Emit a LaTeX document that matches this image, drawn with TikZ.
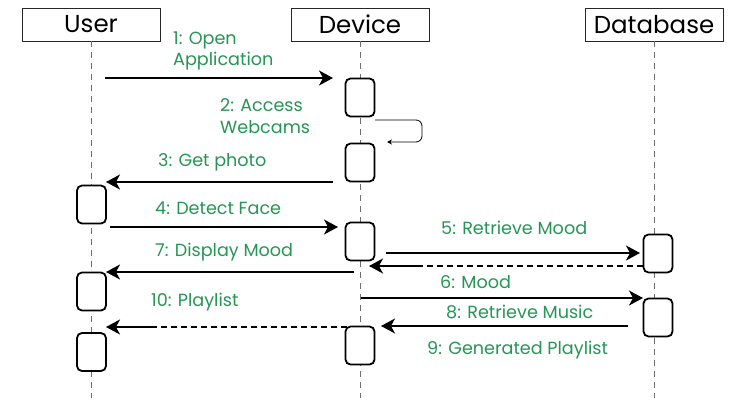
\documentclass[tikz,border=0pt]{standalone}
\usepackage{fontspec}
\setmainfont{Poppins}
\usetikzlibrary{arrows.meta}
\definecolor{lbl}{RGB}{38,150,84}
\definecolor{life}{RGB}{110,110,110}
\tikzset{
  header/.style={draw=black!85, line width=0.9pt, minimum width=138pt, minimum height=33pt, inner sep=0pt, font=\fontsize{24.5}{28}\selectfont},
  actbox/.style={draw=black, line width=1.8pt, rounded corners=5pt, minimum width=29pt, minimum height=38pt, fill=white, inner sep=0pt},
  lifeline/.style={draw=life, line width=0.7pt, dash pattern=on 6pt off 5pt},
  msg/.style={line width=1.8pt, -{Stealth[length=14pt,width=15pt,inset=4pt]}},
  dashmsg/.style={line width=1.8pt, dash pattern=on 6pt off 4pt},
  lab/.style={text=lbl, anchor=base west, inner sep=0pt, font=\fontsize{17.6}{21}\selectfont},
}
\begin{document}
\begin{tikzpicture}[x=1pt,y=-1pt]
\useasboundingbox[fill=white] (0,0) rectangle (741,404);
% headers
\node[header] (user) at (91,24.5) {User};
\node[header] (dev) at (360,24.5) {Device};
\node[header] (db) at (654,24.5) {Database};
% lifelines
\coordinate (uend) at (91,398);
\coordinate (dend) at (360,398);
\coordinate (bend) at (654,398);
\draw[lifeline] (user.south) -- (uend);
\draw[lifeline] (dev.south) -- (dend);
\draw[lifeline] (db.south) -- (bend);
% activation boxes
\node[actbox] (d1) at (360,97.5) {};
\node[actbox] (d2) at (360,162.5) {};
\node[actbox] (d3) at (360,241.5) {};
\node[actbox] (d4) at (360,345.5) {};
\node[actbox] (u1) at (91.5,204.5) {};
\node[actbox] (u2) at (91.5,291.5) {};
\node[actbox] (u3) at (91.5,352) {};
\node[actbox] (b1) at (658,253.5) {};
\node[actbox] (b2) at (658,317.5) {};
% 1
\coordinate (m1s) at (105,78); \coordinate (m1e) at (333,78);
\draw[msg] (m1s) -- (m1e);
\node[lab] (l1a) at (173,45) {1: Open};
\node[lab] (l1b) at (173,66) {Application};
% 2 self loop
\coordinate (s2a) at (375,120); \coordinate (s2b) at (422,120);
\coordinate (s2c) at (422,142); \coordinate (s2d) at (387,142);
\draw[line width=0.8pt, rounded corners=6pt, -{Stealth[length=5pt,width=5pt]}] (s2a) -- (s2b) -- (s2c) -- (s2d);
\node[lab] (l2a) at (220,111) {2: Access};
\node[lab] (l2b) at (220,133) {Webcams};
% 3
\coordinate (m3s) at (333,182); \coordinate (m3e) at (106,182);
\draw[msg] (m3s) -- (m3e);
\node[lab] (l3) at (158,166) {3: Get photo};
% 4
\coordinate (m4s) at (110,227); \coordinate (m4e) at (338,227);
\draw[msg] (m4s) -- (m4e);
\node[lab] (l4) at (155,214) {4: Detect Face};
% 5
\coordinate (m5s) at (386,253); \coordinate (m5e) at (640,253);
\draw[msg] (m5s) -- (m5e);
\node[lab] (l5) at (441,234) {5: Retrieve Mood};
% return of 5
\coordinate (r5s) at (643,266); \coordinate (r5m) at (419,266); \coordinate (r5e) at (369,266);
\draw[dashmsg] (r5s) -- (r5m);
\draw[msg] (r5m) -- (r5e);
% 7
\coordinate (m7s) at (354,272); \coordinate (m7e) at (106,272);
\draw[msg] (m7s) -- (m7e);
\node[lab] (l7) at (155,256) {7: Display Mood};
% 6
\coordinate (m6s) at (361,298); \coordinate (m6e) at (643,298);
\draw[msg] (m6s) -- (m6e);
\node[lab] (l6) at (440,288) {6: Mood};
% 10
\coordinate (m10s) at (347,327); \coordinate (m10m) at (155,327); \coordinate (m10e) at (106,327);
\draw[dashmsg] (m10s) -- (m10m);
\draw[msg] (m10m) -- (m10e);
\node[lab] (l10) at (151,306) {10: Playlist};
% 8
\coordinate (m8s) at (628,326); \coordinate (m8e) at (381,326);
\draw[msg] (m8s) -- (m8e);
\node[lab] (l8) at (446,318) {8: Retrieve Music};
\node[lab] (l9) at (427,354) {9: Generated Playlist};
\end{tikzpicture}
\end{document}
